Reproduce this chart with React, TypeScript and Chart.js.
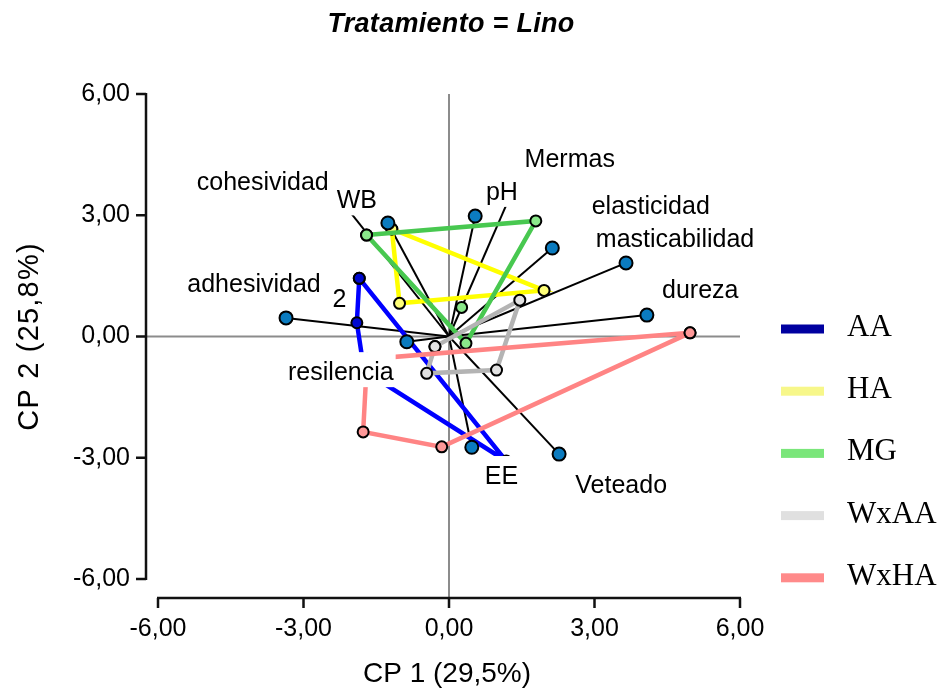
import { useEffect, useRef } from 'react';
import { Chart, registerables } from 'chart.js';

Chart.register(...registerables);

// ---- texts ----
const chartTitle = 'Tratamiento = Lino';
const xTitle = 'CP 1 (29,5%)';
const yTitle = 'CP 2 (25,8%)';

// ---- axis range ----
const axisMin = -6;
const axisMax = 6;
const axisStep = 3;

// ---- variable loadings (CP1, CP2) ----
const varNames = ['adhesividad', 'cohesividad', 'WB', 'pH', 'Mermas', 'elasticidad', 'masticabilidad', 'dureza', 'Veteado', 'EE', 'resilencia'];
const varX = [-3.36, -1.26, -2.12, 1.27, 0.54, 2.13, 3.65, 4.08, 2.27, 0.47, -0.87];
const varY = [0.46, 2.81, 3.2, 3.5, 2.98, 2.19, 1.82, 0.53, -2.91, -2.74, -0.13];

// ---- text labels of the biplot (anchor in axis units: centre x, baseline y) ----
const labelText = ['cohesividad', 'WB', 'adhesividad', '2', 'Mermas', 'pH', 'elasticidad', 'masticabilidad', 'dureza', 'resilencia', 'EE', 'Veteado'];
const labelX = [-3.84, -1.9, -4.02, -2.26, 2.49, 1.09, 4.16, 4.66, 5.18, -2.23, 1.08, 3.55];
const labelY = [3.62, 3.17, 1.11, 0.74, 4.2, 3.38, 3.03, 2.22, 0.95, -1.08, -3.65, -3.86];

// ---- treatment scores, hull order ----
const treatmentNames = ['AA', 'HA', 'MG', 'WxAA', 'WxHA'];
const aaX = [-1.85, -1.9, -1.75, 1.18];
const aaY = [1.44, 0.34, -0.85, -3.08];
const haX = [-1.18, 1.96, -1.02];
const haY = [2.66, 1.14, 0.82];
const mgX = [-1.7, 1.79, 0.35];
const mgY = [2.51, 2.86, -0.17];
const mgInnerX = [0.26];
const mgInnerY = [0.72];
const wxaaX = [-0.29, 1.46, 0.98, -0.46];
const wxaaY = [-0.25, 0.9, -0.83, -0.91];
const wxhaX = [4.97, -1.69, -1.77, -0.15];
const wxhaY = [0.09, -0.56, -2.36, -2.73];

const hullX = [aaX, haX, mgX, wxaaX, wxhaX];
const hullY = [aaY, haY, mgY, wxaaY, wxhaY];

// ---- colours ----
const lineColors = ['#0000ff', '#ffff00', '#48c850', '#b4b4b4', '#ff8484'];
const pointColors = ['#0008d0', '#ffff78', '#8ae88a', '#e2e2e2', '#ff9898'];
const legendColors = ['#0000a0', '#f7f78a', '#7ae67a', '#e0e0e0', '#ff8a8a'];
const loadingFill = '#0b7bbf';

const SANS = '"Liberation Sans", Arial, Helvetica, sans-serif';
const SERIF = '"Liberation Serif", "Times New Roman", serif';

const fmt = (v: number) => v.toFixed(2).replace('.', ',');

const closed = (xs: number[], ys: number[]) => {
  const pts = xs.map((x, i) => ({ x, y: ys[i] }));
  return [...pts, pts[0]];
};

const decorPlugin = {
  id: 'biplotDecor',
  beforeDatasetsDraw(chart: any) {
    const { ctx, chartArea, scales } = chart;
    const x0 = scales.x.getPixelForValue(0);
    const y0 = scales.y.getPixelForValue(0);
    ctx.save();
    ctx.strokeStyle = '#8c8c8c';
    ctx.lineWidth = 2;
    ctx.beginPath();
    ctx.moveTo(chartArea.left - 12, y0);
    ctx.lineTo(chartArea.right, y0);
    ctx.moveTo(x0, chartArea.top);
    ctx.lineTo(x0, chartArea.bottom + 19);
    ctx.stroke();
    ctx.restore();
  },
  afterDatasetsDraw(chart: any) {
    const { ctx, scales } = chart;
    ctx.save();
    ctx.font = `25px ${SANS}`;
    ctx.textAlign = 'center';
    ctx.textBaseline = 'alphabetic';
    labelText.forEach((t, i) => {
      const cx = scales.x.getPixelForValue(labelX[i]);
      const by = scales.y.getPixelForValue(labelY[i]);
      const w = ctx.measureText(t).width + 4;
      ctx.fillStyle = '#ffffff';
      ctx.fillRect(cx - w / 2, by - 28, w, 35);
      ctx.fillStyle = '#000000';
      ctx.fillText(t, cx, by);
    });
    ctx.restore();
  },
  afterDraw(chart: any) {
    const { ctx, chartArea, scales } = chart;
    const axX = chartArea.left - 12;
    const axY = chartArea.bottom + 19;
    ctx.save();
    ctx.strokeStyle = '#111111';
    ctx.lineWidth = 2.5;
    ctx.lineCap = 'butt';
    // y axis with ticks
    ctx.beginPath();
    ctx.moveTo(axX, scales.y.getPixelForValue(axisMax) - 1);
    ctx.lineTo(axX, scales.y.getPixelForValue(axisMin) + 1);
    for (let v = axisMin; v <= axisMax; v += axisStep) {
      const py = scales.y.getPixelForValue(v);
      ctx.moveTo(axX, py);
      ctx.lineTo(axX - 10, py);
    }
    // x axis with ticks
    ctx.moveTo(scales.x.getPixelForValue(axisMin) - 1, axY);
    ctx.lineTo(scales.x.getPixelForValue(axisMax) + 1, axY);
    for (let v = axisMin; v <= axisMax; v += axisStep) {
      const px = scales.x.getPixelForValue(v);
      ctx.moveTo(px, axY);
      ctx.lineTo(px, axY + 10);
    }
    ctx.stroke();

    // chart title
    ctx.fillStyle = '#000000';
    ctx.textAlign = 'center';
    ctx.textBaseline = 'alphabetic';
    ctx.font = `italic bold 27px ${SANS}`;
    (ctx as any).letterSpacing = '0.3px';
    ctx.fillText(chartTitle, 451, 32);

    // x axis title
    (ctx as any).letterSpacing = '0px';
    ctx.font = `28px ${SANS}`;
    ctx.fillText(xTitle, (chartArea.left + chartArea.right) / 2 - 2, 682);

    // y axis title
    ctx.save();
    ctx.translate(30, (chartArea.top + chartArea.bottom) / 2);
    ctx.rotate(-Math.PI / 2);
    ctx.font = `29px ${SANS}`;
    (ctx as any).letterSpacing = '1.2px';
    ctx.textBaseline = 'middle';
    ctx.fillText(yTitle, 0, 0);
    ctx.restore();

    // legend
    ctx.font = `31px ${SERIF}`;
    ctx.textAlign = 'left';
    treatmentNames.forEach((name, i) => {
      const cy = 329 + i * 62.2;
      ctx.fillStyle = legendColors[i];
      ctx.fillRect(781, cy - 4.5, 43, 9);
      ctx.fillStyle = '#000000';
      ctx.fillText(name, 847, cy + 7);
    });
    ctx.restore();
  },
};

export default function App() {
  const canvasRef = useRef<HTMLCanvasElement | null>(null);

  useEffect(() => {
    if (!canvasRef.current) return;
    Chart.defaults.font.family = SANS;

    const vectorSets = varNames.map((name, i) => ({
      label: name,
      type: 'scatter' as const,
      data: [{ x: 0, y: 0 }, { x: varX[i], y: varY[i] }],
      showLine: true,
      borderColor: '#000000',
      borderWidth: 2,
      pointRadius: 0,
      order: 30,
    }));

    const hullSets = treatmentNames.map((name, i) => ({
      label: name,
      type: 'scatter' as const,
      data: closed(hullX[i], hullY[i]),
      showLine: true,
      borderColor: lineColors[i],
      borderWidth: 4.5,
      pointRadius: 5.5,
      pointBackgroundColor: pointColors[i],
      pointBorderColor: '#000000',
      pointBorderWidth: 2,
      order: 20 - i,
    }));

    const mgInner = {
      label: 'MG',
      type: 'scatter' as const,
      data: mgInnerX.map((x, i) => ({ x, y: mgInnerY[i] })),
      showLine: false,
      pointRadius: 5.5,
      pointBackgroundColor: pointColors[2],
      pointBorderColor: '#000000',
      pointBorderWidth: 2,
      order: 10,
    };

    const loadingPoints = {
      label: 'variables',
      type: 'scatter' as const,
      data: varX.map((x, i) => ({ x, y: varY[i] })),
      showLine: false,
      pointRadius: 6.5,
      pointBackgroundColor: loadingFill,
      pointBorderColor: '#000000',
      pointBorderWidth: 2,
      order: 0,
    };

    const chart = new Chart(canvasRef.current, {
      type: 'scatter',
      data: { datasets: [loadingPoints, mgInner, ...hullSets, ...vectorSets] as any },
      options: {
        animation: false,
        responsive: false,
        devicePixelRatio: 1,
        layout: { padding: { left: 0, top: 94, right: 201, bottom: 0 } },
        plugins: {
          legend: { display: false },
          tooltip: { enabled: false },
          title: { display: false },
        },
        scales: {
          x: {
            type: 'linear',
            min: axisMin,
            max: axisMax,
            grid: { display: false, drawTicks: false },
            border: { display: false },
            ticks: {
              stepSize: axisStep,
              padding: 35,
              color: '#000000',
              font: { size: 25, family: SANS },
              callback: (v: any) => fmt(Number(v)),
            },
            afterFit: (s: any) => {
              s.height = 109;
            },
          },
          y: {
            type: 'linear',
            min: axisMin,
            max: axisMax,
            grid: { display: false, drawTicks: false },
            border: { display: false },
            ticks: {
              stepSize: axisStep,
              padding: 28,
              color: '#000000',
              font: { size: 25, family: SANS },
              callback: (v: any) => fmt(Number(v)),
            },
            afterFit: (s: any) => {
              s.width = 158;
            },
          },
        },
      } as any,
      plugins: [decorPlugin],
    });

    return () => chart.destroy();
  }, []);

  return (
    <div style={{ position: 'absolute', left: 0, top: 0, width: 941, height: 688, background: '#ffffff' }}>
      <canvas ref={canvasRef} width={941} height={688} style={{ display: 'block' }} />
    </div>
  );
}
